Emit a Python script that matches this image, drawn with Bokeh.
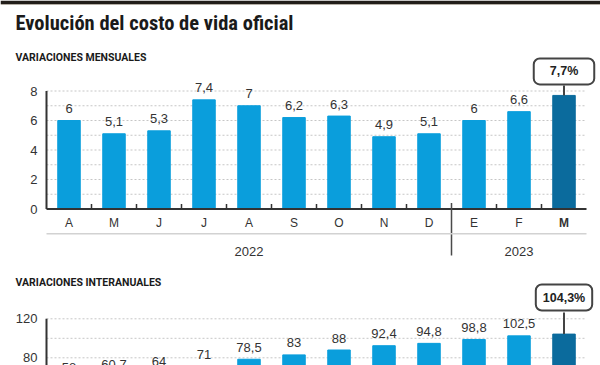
from bokeh.plotting import figure
from bokeh.layouts import column
from bokeh.models import Range1d, Label, Span
from bokeh.core.properties import value
from bokeh.embed import file_html
from bokeh.resources import INLINE

# ---------------- data ----------------
months = ["A", "M", "J", "J", "A", "S", "O", "N", "D", "E", "F", "M"]
years = ["2022", "2023"]
year_months = [9, 3]          # months in each year
monthly = [6, 5.1, 5.3, 7.4, 7, 6.2, 6.3, 4.9, 5.1, 6, 6.6, 7.7]
monthly_labels = ["6", "5,1", "5,3", "7,4", "7", "6,2", "6,3", "4,9", "5,1", "6", "6,6", "7,7%"]
yearly = [58, 60.7, 64, 71, 78.5, 83, 88, 92.4, 94.8, 98.8, 102.5, 104.3]
yearly_labels = ["58", "60,7", "64", "71", "78,5", "83", "88", "92,4", "94,8", "98,8", "102,5", "104,3%"]
top_ticks = [0, 2, 4, 6, 8]
top_minor = [1, 3, 5, 7]
bot_ticks = [0, 40, 80, 120]
bot_minor = [20, 60, 100]

# ---------------- style ----------------
LIGHT = "#0a9edc"
DARK = "#0b6b9d"
TXT = "#333333"
NUMFONT = "Liberation Sans"
HEADFONT = "Roboto Condensed, Noto Sans Condensed, DejaVu Sans Condensed, Liberation Sans Narrow, Roboto"
SUBFONT = "Roboto"
W = 600
LEFT = 46          # px where the category axis starts
CAT_W = 45         # px per month
n = len(months)
centers = [i + 0.5 for i in range(n)]
colors = [LIGHT] * (n - 1) + [DARK]


def base_fig(h, y0, y1):
    p = figure(width=W, height=h, output_backend="svg", toolbar_location=None,
               x_axis_type=None, y_axis_type=None,
               x_range=Range1d(-LEFT / CAT_W, (W - LEFT) / CAT_W),
               y_range=Range1d(y0, y1),
               min_border_left=0, min_border_right=0, min_border_top=0,
               min_border_bottom=0)
    p.outline_line_color = None
    p.grid.visible = False
    return p


def add_axis_and_bars(p, vals, labels, ticks, minor, ppu, lab_off, box_off,
                      conn_px, pad):
    lo, hi = p.y_range.start, p.y_range.end
    # dotted grid lines
    gl = [t for t in ticks + minor if t > 0]
    p.segment(x0=[0] * len(gl), y0=gl, x1=[n] * len(gl), y1=gl,
              line_color="#c6c6c6", line_width=1, line_dash="2 2")
    # y tick labels (only those inside the visible window)
    vt = [t for t in ticks if lo <= t <= hi]
    p.text(x=[0] * len(vt), y=vt, text=[str(t) for t in vt],
           x_offset=-9, text_align="right", text_baseline="middle",
           text_font=value(NUMFONT), text_font_size="13px", text_color=TXT)
    # bars
    p.vbar(x=centers, top=vals, width=0.5, bottom=0, color=colors)
    # value labels
    p.text(x=centers[:-1], y=vals[:-1], text=labels[:-1], y_offset=-lab_off,
           text_align="center", text_baseline="middle",
           text_font=value(NUMFONT), text_font_size="13px", text_color=TXT)
    # y axis line
    p.segment(x0=[0], y0=[0], x1=[0], y1=[max(ticks)], line_color="#333333",
              line_width=2)
    # callout
    top = vals[-1]
    p.segment(x0=[centers[-1]], y0=[top], x1=[centers[-1]],
              y1=[top + conn_px / ppu], line_color="#444444", line_width=2)
    p.add_layout(Label(x=centers[-1], y=top, y_offset=box_off, text=labels[-1],
                       text_align="center", text_baseline="middle",
                       text_font=NUMFONT, text_font_style="bold",
                       text_font_size="12.5px", text_color="#222222",
                       background_fill_color="white", border_line_color="#444444",
                       border_line_width=2, border_radius=6, padding=pad))


# ---------------- top chart ----------------
H1 = 270
ZERO1 = 208.5
ppu1 = 14.75
p1 = base_fig(H1, -(H1 - ZERO1) / ppu1, ZERO1 / ppu1)

# dark band at the very top of the page
p1.add_layout(Span(location=H1 - 1.75, location_units="screen", dimension="width",
                   line_color="#221e1a", line_width=3.5))
p1.add_layout(Span(location=H1 - 4, location_units="screen", dimension="width",
                   line_color="#b5afa6", line_width=1))

add_axis_and_bars(p1, monthly, monthly_labels, top_ticks, top_minor, ppu1,
                  12, 24, 10, (16, 6))

# x axis line
p1.segment(x0=[0], y0=[0], x1=[n], y1=[0], line_color="#333333", line_width=2)
# tick marks between months, and year separator
sep = year_months[0]
tick_b = [b for b in range(1, n) if b != sep]
p1.segment(x0=tick_b, y0=[0] * len(tick_b), x1=tick_b, y1=[5 / ppu1] * len(tick_b),
           line_color="#333333", line_width=1.5)
p1.segment(x0=[sep], y0=[6 / ppu1], x1=[sep], y1=[-46.5 / ppu1],
           line_color="#4a4a4a", line_width=1.5)
# grey rule between months and years
p1.segment(x0=[0], y0=[-24.8 / ppu1], x1=[n], y1=[-24.8 / ppu1],
           line_color="#d2d2d2", line_width=1.5)
# month labels
styles = ["normal"] * (n - 1) + ["bold"]
p1.text(x=centers, y=[0] * n, text=months, y_offset=13.5,
        text_font_style=styles, text_align="center", text_baseline="middle",
        text_font=value(NUMFONT), text_font_size="12px", text_color=TXT)
# year labels
ycent = []
start = 0
for k in year_months:
    ycent.append(start + k / 2)
    start += k
p1.text(x=ycent, y=[0] * len(years), text=years, y_offset=42,
        text_align="center", text_baseline="middle",
        text_font=value(NUMFONT), text_font_size="13px", text_color=TXT)

# headings
p1.add_layout(Label(x=15, y=H1 - 22, x_units="screen", y_units="screen",
                    text="Evolución del costo de vida oficial", text_baseline="middle",
                    text_font=HEADFONT, text_font_style="bold",
                    text_font_size="20.5px", text_color="#1a1a1a"))
p1.add_layout(Label(x=15, y=H1 - 57, x_units="screen", y_units="screen",
                    text="VARIACIONES MENSUALES", text_baseline="middle",
                    text_font=SUBFONT, text_font_style="bold",
                    text_font_size="10.5px", text_color="#1a1a1a"))

# ---------------- bottom chart ----------------
H2 = 95
TOP2 = 270         # page y where this chart begins
ZERO2 = 435.3      # page y of value 0 (below the visible window)
ppu2 = 0.975
p2 = base_fig(H2, (ZERO2 - TOP2 - H2) / ppu2, (ZERO2 - TOP2) / ppu2)
add_axis_and_bars(p2, yearly, yearly_labels, bot_ticks, bot_minor, ppu2,
                  12, 36.6, 21.6, (7, 6))
p2.add_layout(Label(x=15, y=H2 - 12, x_units="screen", y_units="screen",
                    text="VARIACIONES INTERANUALES", text_baseline="middle",
                    text_font=SUBFONT, text_font_style="bold",
                    text_font_size="10.5px", text_color="#1a1a1a"))

layout = column(p1, p2, spacing=0)
open("out.html", "w").write(file_html(layout, INLINE))
